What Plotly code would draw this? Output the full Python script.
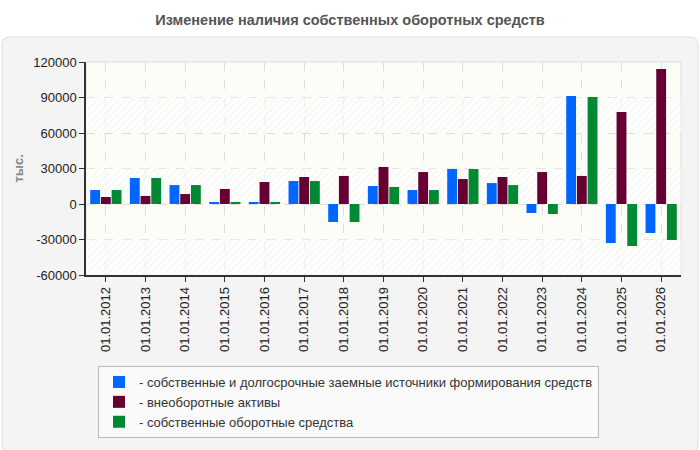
import plotly.graph_objects as go

# ---------------- data ----------------
categories = ["01.01.2012", "01.01.2013", "01.01.2014", "01.01.2015", "01.01.2016",
              "01.01.2017", "01.01.2018", "01.01.2019", "01.01.2020", "01.01.2021",
              "01.01.2022", "01.01.2023", "01.01.2024", "01.01.2025", "01.01.2026"]
series_names = ["- собственные и долгосрочные заемные источники формирования средств",
                "- внеоборотные активы",
                "- собственные оборотные средства"]
sources = [11800, 22000, 16000, 1100, 1700, 19400, -15200, 15200, 11800, 29600,
           17700, -7600, 91300, -33000, -24500]
noncurrent = [5900, 6800, 8400, 12700, 18600, 22800, 23700, 31300, 27000, 21100,
              22800, 27000, 23700, 77700, 114000]
own_working = [11800, 22000, 16000, 1000, 1600, 19400, -15200, 14400, 11800, 29600,
               16000, -8500, 90400, -35500, -30400]
y_ticks = [-60000, -30000, 0, 30000, 60000, 90000, 120000]
y_tick_text = ["-60000", "-30000", "0", "30000", "60000", "90000", "120000"]
title_text = "Изменение наличия собственных оборотных средств"
y_title = "тыс."

colors = ["#0066ff", "#660033", "#008833"]

# ---------------- geometry (px) ----------------
W, H = 700, 450
L, R, T, B = 86, 19, 62, 175
PW = W - L - R
PH = H - T - B


def px_x(px):
    return (px - L) / PW


def px_y(py):
    return (H - B - py) / PH


def rounded_rect(x0, y0, x1, y1, r):
    # pixel coords -> paper coords path with rounded corners
    X = px_x
    Y = px_y
    return (f"M {X(x0 + r)},{Y(y0)} L {X(x1 - r)},{Y(y0)} "
            f"Q {X(x1)},{Y(y0)} {X(x1)},{Y(y0 + r)} "
            f"L {X(x1)},{Y(y1 - r)} Q {X(x1)},{Y(y1)} {X(x1 - r)},{Y(y1)} "
            f"L {X(x0 + r)},{Y(y1)} Q {X(x0)},{Y(y1)} {X(x0)},{Y(y1 - r)} "
            f"L {X(x0)},{Y(y0 + r)} Q {X(x0)},{Y(y0)} {X(x0 + r)},{Y(y0)} Z")


fig = go.Figure()

xs = list(range(len(categories)))
xr = [-0.5, len(categories) - 0.5]
yr = [y_ticks[0], y_ticks[-1]]

# hatched background bands on the main axes (drawn beneath the overlaid bar axes)
for i in range(len(y_ticks) - 1):
    if i % 2 == 0:  # -60k..-30k, 0..30k, 60k..90k
        lo, hi = y_ticks[i], y_ticks[i + 1]
        fig.add_trace(go.Scatter(
            x=[xr[0], xr[1], xr[1], xr[0], xr[0]],
            y=[lo, lo, hi, hi, lo],
            fill="toself", mode="none",
            fillcolor="rgba(255,255,255,0.6)",
            fillpattern=dict(shape="/", fgcolor="#e4e4e4", bgcolor="rgba(255,255,255,0.6)",
                             size=5, solidity=0.2),
            hoverinfo="skip", showlegend=False, xaxis="x", yaxis="y"))

for name, vals, c in zip(series_names, [sources, noncurrent, own_working], colors):
    fig.add_trace(go.Bar(x=xs, y=vals, name=name, marker=dict(color=c, line=dict(width=0)),
                         xaxis="x2", yaxis="y2"))

# panel background, plot background and plot border
fig.add_shape(type="path", xref="paper", yref="paper", layer="below",
              path=rounded_rect(2, 37, 698, 452, 8),
              fillcolor="#f4f4f4", line=dict(color="#dddddd", width=1))
fig.add_shape(type="rect", xref="paper", yref="paper", layer="below",
              x0=0, x1=1, y0=0, y1=1, fillcolor="#fdfdf7",
              line=dict(color="#dddddd", width=1))

fig.update_layout(
    width=W, height=H,
    margin=dict(l=L, r=R, t=T, b=B, pad=0),
    paper_bgcolor="white",
    plot_bgcolor="rgba(0,0,0,0)",
    barmode="group", bargap=0.19, bargroupgap=0.08,
    font=dict(family="Arial, Liberation Sans, sans-serif", size=13, color="#222"),
    title=dict(text=title_text, x=0.5, xanchor="center", xref="container",
               y=1 - 20 / H, yanchor="middle",
               font=dict(size=14.5, color="#555555", weight="bold")),
    xaxis=dict(range=xr, tickmode="array", tickvals=xs, ticktext=categories,
               tickangle=-90, showgrid=True, gridcolor="#dddddd", griddash="dash",
               gridwidth=1, showline=True, linecolor="#333333", linewidth=1.5,
               ticks="outside", ticklen=5, tickcolor="#333333",
               tickfont=dict(size=13, color="#222"), zeroline=False, fixedrange=True),
    yaxis=dict(range=yr, tickmode="array", tickvals=y_ticks, ticktext=y_tick_text,
               showgrid=True, gridcolor="#dddddd", griddash="dash", gridwidth=1,
               showline=True, linecolor="#333333", linewidth=1.5,
               ticks="outside", ticklen=5, tickcolor="#333333",
               tickfont=dict(size=13, color="#222"), zeroline=False, fixedrange=True),
    xaxis2=dict(range=xr, overlaying="x", visible=False, showgrid=False, zeroline=False),
    yaxis2=dict(range=yr, overlaying="y", visible=False, showgrid=False, zeroline=False),
    legend=dict(x=px_x(98), y=px_y(366), xanchor="left", yanchor="top",
                bgcolor="#fafafa", bordercolor="#bbbbbb", borderwidth=1,
                font=dict(size=13, color="#333333"), tracegroupgap=0,
                itemwidth=30),
    annotations=[dict(text=y_title, xref="paper", yref="paper", x=px_x(18), y=0.5,
                      textangle=-90, showarrow=False, xanchor="center", yanchor="middle",
                      font=dict(size=13, color="#888888", weight="bold"))],
)

fig.write_html("out.html")
